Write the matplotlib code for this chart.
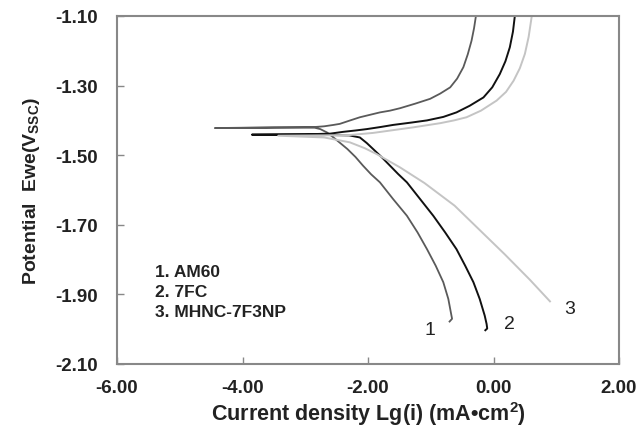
import matplotlib
matplotlib.use('Agg')
import matplotlib.pyplot as plt

plt.rcParams['font.family'] = ['Liberation Sans', 'DejaVu Sans']
plt.rcParams['mathtext.fontset'] = 'custom'
plt.rcParams['mathtext.rm'] = 'Liberation Sans'
plt.rcParams['mathtext.bf'] = 'Liberation Sans:bold'
plt.rcParams['mathtext.it'] = 'Liberation Sans:italic'

# curve data: lg(i) and potential, cathodic end -> Ecorr -> anodic end
am60_x = [-0.70, -0.66, -0.67, -0.72, -0.80, -0.92, -1.06, -1.21, -1.38, -1.60, -1.81, -1.95, -2.08, -2.20,
          -2.33, -2.45, -2.55, -2.65, -2.76, -2.85, -3.50, -4.44,
          -3.50, -2.85, -2.70, -2.55, -2.45, -2.30, -2.13, -1.97, -1.81, -1.65, -1.49, -1.25, -1.01,
          -0.85, -0.69, -0.58, -0.48, -0.41, -0.35, -0.31, -0.28]
am60_y = [-1.978, -1.970, -1.961, -1.913, -1.865, -1.818, -1.770, -1.722, -1.674, -1.626, -1.578, -1.555, -1.530, -1.505,
          -1.482, -1.464, -1.449, -1.435, -1.425, -1.421, -1.421, -1.422,
          -1.420, -1.419, -1.417, -1.413, -1.410, -1.401, -1.391, -1.384, -1.377, -1.372, -1.365, -1.352, -1.338,
          -1.323, -1.305, -1.280, -1.247, -1.210, -1.171, -1.135, -1.100]

fc7_x = [-0.13, -0.10, -0.11, -0.14, -0.22, -0.32, -0.45, -0.59, -0.77, -0.96, -1.17, -1.38, -1.52, -1.65,
         -1.78, -1.92, -2.02, -2.13, -2.30, -3.00, -3.85,
         -3.00, -2.60, -2.40, -2.20, -2.02, -1.80, -1.60, -1.30, -1.06, -0.80, -0.59, -0.38, -0.16,
         -0.02, 0.10, 0.19, 0.26, 0.31, 0.34]
fc7_y = [-2.003, -1.998, -1.985, -1.961, -1.913, -1.865, -1.818, -1.770, -1.722, -1.674, -1.626, -1.578, -1.554, -1.530,
         -1.506, -1.482, -1.465, -1.449, -1.443, -1.441, -1.441,
         -1.440, -1.438, -1.433, -1.429, -1.425, -1.419, -1.413, -1.406, -1.400, -1.390, -1.377, -1.358, -1.334,
         -1.305, -1.267, -1.230, -1.190, -1.145, -1.100]

mhnc_x = [0.90, 0.58, 0.18, -0.22, -0.62, -1.10, -1.49, -1.86, -2.05, -2.29, -2.70, -3.43,
          -2.70, -2.29, -1.92, -1.60, -1.28, -0.85, -0.63, -0.43, -0.20, 0.05, 0.20, 0.32, 0.42, 0.50, 0.56, 0.61]
mhnc_y = [-1.920, -1.858, -1.785, -1.715, -1.645, -1.580, -1.535, -1.497, -1.480, -1.463, -1.449, -1.444,
          -1.443, -1.442, -1.436, -1.428, -1.420, -1.408, -1.400, -1.391, -1.372, -1.343, -1.318, -1.286, -1.250,
          -1.209, -1.160, -1.100]

legend_lines = ['1. AM60', '2. 7FC', '3. MHNC-7F3NP']
xticks = [-6, -4, -2, 0, 2]
yticks = [-2.10, -1.90, -1.70, -1.50, -1.30, -1.10]

fig = plt.figure(figsize=(6.41, 4.35), dpi=100)
ax = fig.add_axes([117 / 641, 1 - 365 / 435, 502 / 641, 348 / 435])

ax.plot(am60_x, am60_y, color='#5a5a5a', lw=1.3)
ax.plot(fc7_x, fc7_y, color='#111111', lw=1.4)
ax.plot(mhnc_x, mhnc_y, color='#c4c4c4', lw=1.4)

ax.text(-1.02, -2.0, '1', fontsize=14, ha='center', va='center', color='#222222')
ax.text(0.26, -1.985, '2', fontsize=14, ha='center', va='center', color='#222222')
ax.text(1.22, -1.94, '3', fontsize=14, ha='center', va='center', color='#222222')

for k, s in enumerate(legend_lines):
    ax.text(-5.40, -1.833 - 0.058 * k, s, fontsize=12.5, fontweight='bold', ha='left', va='center', color='#222222')

ax.set_xlim(-6, 2)
ax.set_ylim(-2.10, -1.10)
ax.set_xticks(xticks)
ax.set_yticks(yticks)
ax.set_xticklabels(['%.2f' % v for v in xticks])
ax.set_yticklabels(['%.2f' % v for v in yticks])
ax.tick_params(direction='in', length=5, width=1, color='#888888', labelsize=13.5)
ax.tick_params(axis='y', pad=14)
ax.tick_params(axis='x', pad=11)
for lab in ax.get_xticklabels() + ax.get_yticklabels():
    lab.set_fontweight('bold')
    lab.set_color('#222222')
for sp in ax.spines.values():
    sp.set_color('#888888')
    sp.set_linewidth(1.5)

ax.set_xlabel('Current density Lg(i) (mA\u2022cm$\\mathbf{^{2}}$)', fontsize=15.5, fontweight='bold', color='#222222', labelpad=2)
ax.set_ylabel('Potential  Ewe(V$\\mathbf{_{SSC}}$)', fontsize=14, fontweight='bold', color='#222222', labelpad=9)

fig.savefig('out.png', dpi=100)
